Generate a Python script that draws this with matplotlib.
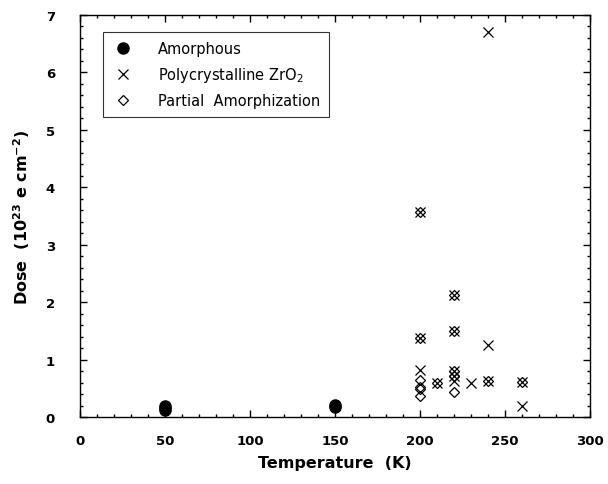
import matplotlib
matplotlib.use('Agg')
import matplotlib.pyplot as plt
from matplotlib.ticker import MultipleLocator

matplotlib.rcParams['font.family'] = ['DejaVu Sans']
matplotlib.rcParams['mathtext.default'] = 'regular'

# amorphous (filled circles)
amor_T = [50, 50, 50, 150, 150]
amor_dose = [0.12, 0.16, 0.20, 0.17, 0.21]

# polycrystalline ZrO2 (crosses)
poly_T = [200, 200, 200, 210, 220, 220, 220, 220, 220, 230, 240, 240, 240, 260, 260]
poly_dose = [3.57, 1.37, 0.82, 0.60, 2.13, 1.49, 0.80, 0.72, 0.62, 0.60, 6.70, 1.26, 0.63, 0.61, 0.19]

# partial amorphization (diamonds)
part_T = [200, 200, 200, 200, 200, 200, 210, 220, 220, 220, 220, 220, 240, 260]
part_dose = [3.57, 1.37, 0.64, 0.53, 0.48, 0.37, 0.60, 2.13, 1.49, 0.80, 0.72, 0.43, 0.63, 0.61]

fig = plt.figure(figsize=(6.08, 4.85), dpi=100)
ax = fig.add_axes([80/608, 1 - 418/485, 510/608, 402/485])

ax.plot(amor_T, amor_dose, 'o', color='k', ms=8, label='Amorphous')
ax.plot(poly_T, poly_dose, 'x', color='k', ms=7, mew=0.9, label='Polycrystalline ZrO$_2$')
ax.plot(part_T, part_dose, 'D', mfc='none', mec='k', ms=5, mew=0.9, label='Partial  Amorphization')

ax.set_xlim(0, 300)
ax.set_ylim(0, 7)
ax.xaxis.set_major_locator(MultipleLocator(50))
ax.xaxis.set_minor_locator(MultipleLocator(10))
ax.yaxis.set_major_locator(MultipleLocator(1))
ax.yaxis.set_minor_locator(MultipleLocator(0.2))
ax.tick_params(which='both', direction='in', top=True, right=True, width=1)
ax.tick_params(which='major', length=5)
ax.tick_params(which='minor', length=2.5)
ax.tick_params(axis='x', pad=12)
ax.tick_params(axis='y', pad=18)
for lab in ax.get_xticklabels() + ax.get_yticklabels():
    lab.set_fontweight('bold')
    lab.set_fontsize(9.5)
for s in ax.spines.values():
    s.set_linewidth(1)

ax.set_xlabel('Temperature  (K)', fontsize=11.5, fontweight='bold', labelpad=6)
ax.set_ylabel('Dose  (10$^{23}$ e cm$^{-2}$)', fontsize=11.5, fontweight='bold', labelpad=10)

leg = ax.legend(loc='upper left', bbox_to_anchor=(0.045, 0.958), fancybox=False,
                edgecolor='k', fontsize=10.5, handletextpad=1.6, borderpad=0.65,
                labelspacing=0.6, borderaxespad=0, handlelength=1.5)
leg.get_frame().set_linewidth(0.8)

fig.savefig('out.png', dpi=100)
